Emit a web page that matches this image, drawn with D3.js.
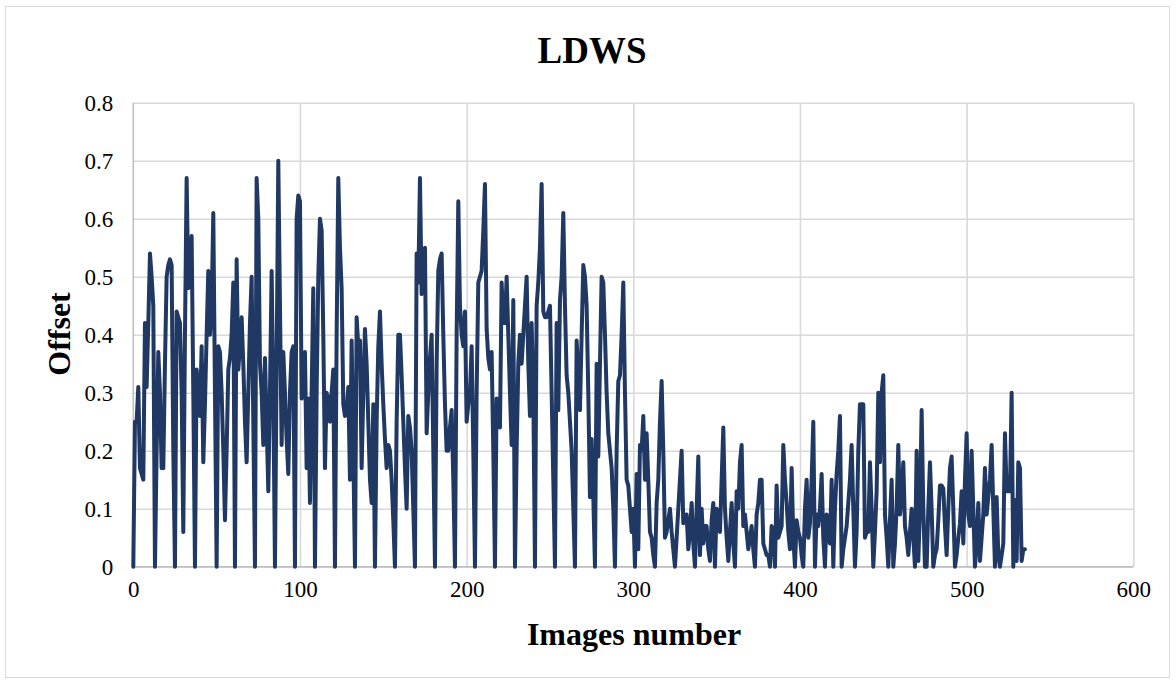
<!DOCTYPE html>
<html>
<head>
<meta charset="utf-8">
<script src="https://cdn.jsdelivr.net/npm/d3@7"></script>
<style>
  html, body { margin: 0; padding: 0; background: #fff; }
  svg text { font-family: "Liberation Serif", "Times New Roman", serif; }
</style>
</head>
<body>
<svg id="chart" width="1176" height="684"></svg>
<script>
const title = "LDWS";
const xTitle = "Images number";
const yTitle = "Offset";
const xTicks = [0, 100, 200, 300, 400, 500, 600];
const yTicks = [0, 0.1, 0.2, 0.3, 0.4, 0.5, 0.6, 0.7, 0.8];
const yTickLabels = ["0", "0.1", "0.2", "0.3", "0.4", "0.5", "0.6", "0.7", "0.8"];
// Offset per image (image number = position in the array)
const offset = [
  0,.25,.25,.31,.17,.16,.15,.42,.31,.42,
  .54,.50,.45,0,.2,.37,.30,.17,.17,.35,
  .50,.52,.53,.52,.2,0,.44,.43,.42,.3,
  .06,.4,.67,.48,.50,.57,.3,0,.34,.30,
  .26,.38,.18,.28,.40,.51,.40,.45,.61,.3,
  0,.38,.37,.3,.2,.08,.2,.34,.36,.40,
  .49,0,.53,.34,.38,.43,.35,.25,.18,.3,
  .42,.50,.25,0,.67,.6,.35,.3,.21,.36,
  .25,.13,.3,.51,.3,0,.35,.70,.45,.21,
  .37,.3,.22,.16,.3,.37,.38,0,.6,.64,
  .63,.29,.33,.37,.17,.29,.11,.3,.48,0,
  .3,.5,.60,.58,.4,.17,.30,.29,.25,.30,
  .34,0,.4,.67,.55,.48,.28,.26,.27,.31,
  .15,.39,.2,0,.43,.38,.39,.17,.3,.41,
  .35,.25,.15,.11,.28,0,.25,.38,.44,.35,
  .28,.22,.17,.21,.2,.15,.08,0,.25,.40,
  .40,.33,.25,.17,.10,.26,.24,.2,.1,0,
  .54,.49,.67,.47,.5,.55,.23,.3,.36,.40,
  .2,0,.35,.51,.53,.54,.4,.28,.20,.20,
  .24,.27,.15,0,.4,.63,.45,.40,.38,.44,
  .25,.28,.3,.38,.2,0,.3,.49,.50,.51,
  .58,.66,.41,.36,.34,.37,.2,0,.29,.26,
  .24,.49,.42,.42,.50,.4,.3,.21,.46,0,
  .2,.35,.40,.35,.4,.45,.50,.35,.26,.42,
  .3,0,.45,.49,.55,.66,.44,.43,.43,.44,
  .45,.3,.15,0,.42,.27,.46,.5,.61,.45,
  .33,.3,.25,.20,.1,0,.39,.33,.27,.4,
  .52,.5,.45,.3,.12,.22,.12,0,.35,.19,
  .35,.50,.49,.4,.3,.23,.2,.17,.1,0,
  .20,.32,.33,.4,.49,.3,.15,.14,.1,.06,
  .1,0,.16,.03,.21,.20,.26,.15,.23,.15,
  .06,.05,.02,0,.11,.15,.25,.32,.2,.05,
  .06,.08,.10,.06,.03,0,.05,.10,.15,.20,
  .075,.08,.09,.03,.06,.11,.04,0,.1,.19,
  .02,.10,.04,.07,.07,.03,.01,.08,.11,0,
  .10,.08,.06,.15,.24,.10,.05,.01,.06,.11,
  .04,0,.13,.1,.18,.21,.07,.09,.06,.03,
  .05,.07,.03,0,.09,.11,.15,.15,.04,.03,
  .02,.02,0,.07,.06,0,.14,.05,.06,.07,
  .21,.15,.11,.06,.03,.17,.05,0,.08,.06,
  .05,.02,0,.1,.15,.05,.075,.15,.25,0,
  .09,.07,.1,.16,.05,0,.09,.06,.04,.15,
  0,.1,.16,.2,.26,0,.03,.05,.07,.11,
  .15,.21,.1,0,.06,.2,.28,.28,.28,.05,
  .06,.06,.18,.1,0,.06,.13,.30,.18,.3,
  .33,.09,.05,0,.08,.15,0,.04,.1,.21,
  .09,.12,.18,.07,.05,.02,.06,.10,.05,0,
  .20,.01,.1,.27,.1,0,0,.1,.18,.1,
  0,.02,.03,.08,.14,.14,.135,.07,.02,.1,
  .17,.19,.1,0,.02,.05,.075,.13,.04,.15,
  .23,.09,.07,.20,.1,0,.04,.11,.01,.05,
  .09,.17,.09,.12,.15,.21,.1,0,.12,.02,
  0,.02,.04,.23,.13,.13,.13,.30,0,.115,
  .01,.18,.17,.01,.03,.03
];

const W = 1176, H = 684;
const m = { left: 133.3, right: 1133.3, top: 102.7, bottom: 566.7 };
const svg = d3.select("#chart");

svg.append("rect").attr("x", 0).attr("y", 0).attr("width", W).attr("height", H).attr("fill", "#fff");
svg.append("rect").attr("x", 5.5).attr("y", 6.5).attr("width", 1164).attr("height", 671)
  .attr("fill", "none").attr("stroke", "#d9d9d9").attr("stroke-width", 1);

const x = d3.scaleLinear().domain([0, 600]).range([m.left, m.right]);
const y = d3.scaleLinear().domain([0, 0.8]).range([m.bottom, m.top]);

// gridlines
const gy = svg.append("g")
  .attr("transform", `translate(${m.left},0)`)
  .call(d3.axisLeft(y).tickValues(yTicks).tickSize(-(m.right - m.left)).tickFormat(""));
gy.select(".domain").remove();
gy.selectAll(".tick line").attr("stroke", "#d9d9d9").attr("stroke-width", 1.6);

const gx = svg.append("g")
  .attr("transform", `translate(0,${m.bottom})`)
  .call(d3.axisBottom(x).tickValues(xTicks.slice(1)).tickSize(-(m.bottom - m.top)).tickFormat(""));
gx.select(".domain").remove();
gx.selectAll(".tick line").attr("stroke", "#d9d9d9").attr("stroke-width", 1.6);

// axis lines
svg.append("line").attr("x1", m.left).attr("x2", m.left).attr("y1", m.top).attr("y2", m.bottom)
  .attr("stroke", "#bfbfbf").attr("stroke-width", 1.6);
svg.append("line").attr("x1", m.left).attr("x2", m.right).attr("y1", m.bottom).attr("y2", m.bottom)
  .attr("stroke", "#bfbfbf").attr("stroke-width", 1.6);

// tick labels via axes
const yLab = svg.append("g")
  .attr("transform", `translate(${m.left - 20},0)`)
  .call(d3.axisLeft(y).tickValues(yTicks).tickSize(0).tickFormat((d, i) => yTickLabels[i]));
yLab.select(".domain").remove();
yLab.selectAll("text").attr("font-size", 23).attr("fill", "#000")
  .attr("font-family", "Liberation Serif").attr("dy", "0.32em").attr("x", 0);

const xLab = svg.append("g")
  .attr("transform", `translate(0,${m.bottom + 14})`)
  .call(d3.axisBottom(x).tickValues(xTicks).tickSize(0).tickFormat(d3.format("d")));
xLab.select(".domain").remove();
xLab.selectAll("text").attr("font-size", 23).attr("fill", "#000")
  .attr("font-family", "Liberation Serif").attr("dy", "0.71em").attr("y", 0);

// line
const line = d3.line().x((d, i) => x(i)).y(d => y(d));
svg.append("path").datum(offset)
  .attr("d", line)
  .attr("fill", "none")
  .attr("stroke", "#203864")
  .attr("stroke-width", 4)
  .attr("stroke-linejoin", "round")
  .attr("stroke-linecap", "round");

// titles
svg.append("text").attr("x", 592).attr("y", 63).attr("text-anchor", "middle")
  .attr("font-size", 37).attr("font-weight", "bold").attr("fill", "#000").text(title);
svg.append("text").attr("x", 634).attr("y", 645).attr("text-anchor", "middle")
  .attr("font-size", 32).attr("font-weight", "bold").attr("fill", "#000").text(xTitle);
svg.append("text").attr("transform", "translate(70,334) rotate(-90)").attr("text-anchor", "middle")
  .attr("font-size", 32).attr("font-weight", "bold").attr("fill", "#000").text(yTitle);
</script>
</body>
</html>
